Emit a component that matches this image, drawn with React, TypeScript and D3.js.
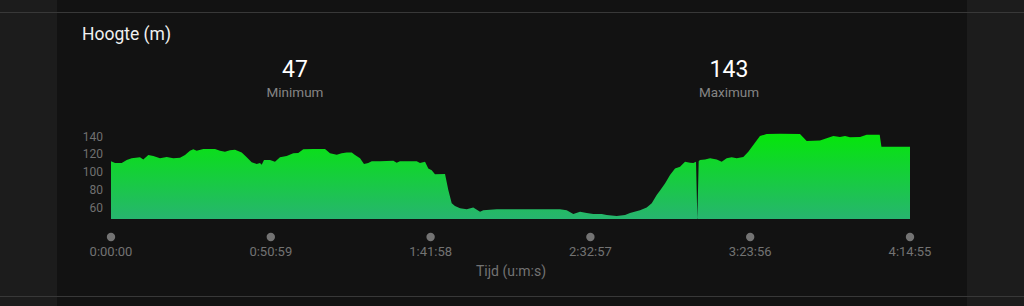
import React from "react";
import * as d3 from "d3";

const W = 1024;
const H = 306;

// Time (seconds) and elevation (m)
const times: number[] = [
  0, 77, 205, 301, 396, 555, 618, 714, 810, 938, 1066, 1193, 1321, 1417, 1512, 1575, 1640, 1767,
  1991, 2086, 2182, 2278, 2373, 2502, 2598, 2693, 2789, 2852, 2885, 2929, 3044, 3139, 3235, 3363,
  3490, 3585, 3681, 3873, 4097, 4192, 4321, 4416, 4512, 4608, 4671, 4767, 4843, 4925, 4991, 5150,
  5404, 5469, 5532, 5852, 5915, 6011, 6074, 6139, 6202, 6394, 6457, 6522, 6585, 6681, 6809, 6935,
  7064, 7127, 7383, 8595, 8723, 8850, 8978, 9106, 9233, 9393, 9489, 9680, 9840, 9935, 10127, 10255,
  10351, 10446, 10510, 10605, 10701, 10797, 10893, 10988, 11084, 11147, 11199, 11224, 11250, 11275,
  11371, 11467, 11595, 11690, 11786, 11882, 11977, 12104, 12200, 12295, 12423, 12552, 12806, 13189,
  13317, 13572, 13700, 13827, 13955, 14051, 14146, 14338, 14466, 14715, 14748, 15295,
];
const elevations: number[] = [
  112, 110, 110, 113.5, 115.4, 116.5, 114, 119, 118, 115.4, 117, 115.4, 116, 119, 124, 125.5, 124, 126,
  126, 124, 122.8, 124.5, 125, 122, 116.5, 111, 109, 110, 108, 113.5, 113.5, 111.6, 116.5, 118,
  121, 121.5, 125.5, 126, 126, 121, 119.5, 121, 122, 122, 119, 115.4, 109, 110, 112, 112,
  112.5, 110.5, 112, 112, 110, 111.6, 104, 102, 97.4, 97.7, 79.7, 64.7, 61.6, 59, 58, 60,
  55.3, 57, 58, 58, 57, 52.6, 55.3, 53.8, 52.6, 52.6, 51.5, 50.4, 51.5, 53.8, 57, 60,
  64.7, 74, 79, 87, 96.6, 104, 106, 111.6, 110.5, 110, 111.6, 47, 112, 113.5,
  114, 115.4, 114, 111.6, 115.4, 116.5, 115.4, 117, 122.8, 130.4, 140.5, 142.8, 143, 142.8,
  135, 135.5, 138, 140.5, 139.4, 140.5, 139, 139.4, 142, 142, 128.5, 128.5,
];

const xTickSeconds: number[] = [0, 3059, 6118, 9177, 12236, 15295];
const xTickLabels: string[] = ["0:00:00", "0:50:59", "1:41:58", "2:32:57", "3:23:56", "4:14:55"];
const yTicks: number[] = [60, 80, 100, 120, 140];

const minValue = 47;
const maxValue = 143;

const FONT = "Roboto, 'Helvetica Neue', Arial, sans-serif";

export default function App() {
  const data = times.map((t, i) => ({ t, v: elevations[i] }));
  const x = d3.scaleLinear().domain([0, 15295]).range([111, 910]);
  const y = d3.scaleLinear().domain([minValue, maxValue]).range([219, 133.8]);
  const area = d3
    .area<{ t: number; v: number }>()
    .x((d) => x(d.t))
    .y0(y(minValue))
    .y1((d) => y(d.v))
    .curve(d3.curveLinear);

  return (
    <div style={{ position: "absolute", left: 0, top: 0, width: W, height: H }}>
      <svg width={W} height={H} style={{ display: "block" }}>
        <defs>
          <linearGradient id="g" gradientUnits="userSpaceOnUse" x1={0} x2={0} y1={y(maxValue)} y2={y(minValue)}>
            <stop offset="0" stopColor="#05e60a" />
            <stop offset="1" stopColor="#27b56f" />
          </linearGradient>
        </defs>
        <rect x={0} y={0} width={W} height={H} fill="#1c1c1c" />
        <rect x={57} y={0} width={910} height={H} fill="#121212" />
        <line x1={0} x2={W} y1={12.5} y2={12.5} stroke="#383838" strokeWidth={1} />
        <line x1={0} x2={W} y1={296.5} y2={296.5} stroke="#383838" strokeWidth={1} />

        <text x={82} y={40} fill="#f0f0f0" fontFamily={FONT} fontSize={17.5}>
          Hoogte (m)
        </text>

        <text x={295} y={77} fill="#ffffff" fontFamily={FONT} fontSize={23} textAnchor="middle">
          {minValue}
        </text>
        <text x={295} y={97} fill="#858585" fontFamily={FONT} fontSize={13.5} textAnchor="middle">
          Minimum
        </text>
        <text x={729} y={77} fill="#ffffff" fontFamily={FONT} fontSize={23} textAnchor="middle">
          {maxValue}
        </text>
        <text x={729} y={97} fill="#858585" fontFamily={FONT} fontSize={13.5} textAnchor="middle">
          Maximum
        </text>

        {yTicks.map((v) => (
          <text key={v} x={103} y={y(v)} dy="0.35em" fill="#707070" fontFamily={FONT} fontSize={12} textAnchor="end">
            {v}
          </text>
        ))}

        <path d={area(data) || ""} fill="url(#g)" />

        {xTickSeconds.map((t, i) => (
          <g key={t}>
            <circle cx={x(t)} cy={237} r={4.2} fill="#737373" />
            <text x={x(t)} y={256} fill="#737373" fontFamily={FONT} fontSize={13} textAnchor="middle">
              {xTickLabels[i]}
            </text>
          </g>
        ))}

        <text x={511} y={276} fill="#737373" fontFamily={FONT} fontSize={14} textAnchor="middle">
          Tijd (u:m:s)
        </text>
      </svg>
    </div>
  );
}
